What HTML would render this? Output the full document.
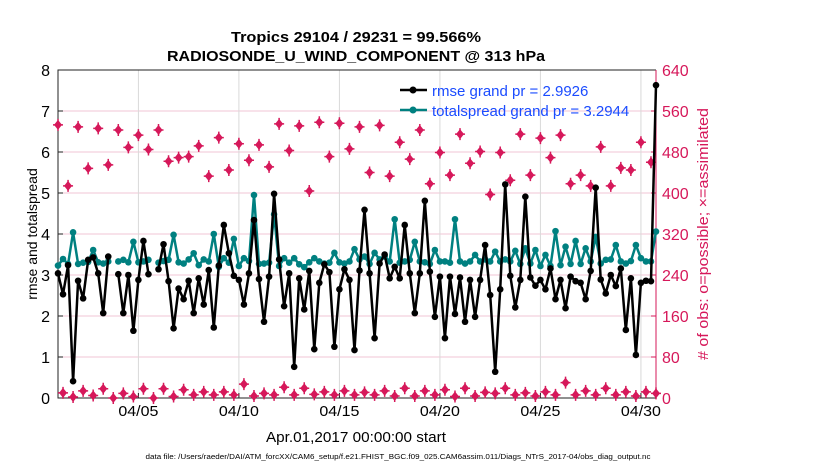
<!DOCTYPE html>
<html><head><meta charset="utf-8">
<style>
html,body{margin:0;padding:0;background:#fff;}
svg{display:block;font-family:"Liberation Sans",Arial,sans-serif;}
</style></head>
<body>
<svg id="chart" width="830" height="470" viewBox="0 0 830 470">
  <text x="356" y="42" text-anchor="middle" font-size="14.5" font-weight="bold" textLength="250" lengthAdjust="spacingAndGlyphs">Tropics 29104 / 29231 = 99.566%</text>
  <text x="356" y="61" text-anchor="middle" font-size="14.5" font-weight="bold" textLength="378" lengthAdjust="spacingAndGlyphs">RADIOSONDE_U_WIND_COMPONENT @ 313 hPa</text>
  <g id="grid"></g>
  <g id="axes"></g>
  <g id="marks"></g>
  <g id="legend">
    <line x1="400" y1="90" x2="427" y2="90" stroke="#000" stroke-width="2.5"/>
    <circle cx="413" cy="90" r="3.5" fill="#000"/>
    <text x="432" y="96" font-size="15" fill="#1a4bff">rmse grand pr = 2.9926</text>
    <line x1="400" y1="110" x2="427" y2="110" stroke="#008080" stroke-width="2.5"/>
    <circle cx="413" cy="110" r="3.5" fill="#008080"/>
    <text x="432" y="116" font-size="15" fill="#1a4bff">totalspread grand pr = 3.2944</text>
  </g>
  <text x="0" y="0" transform="translate(37,234) rotate(-90)" text-anchor="middle" font-size="14">rmse and totalspread</text>
  <text x="0" y="0" transform="translate(708,234) rotate(-90)" text-anchor="middle" font-size="14.5" fill="#d6185a" textLength="252" lengthAdjust="spacingAndGlyphs"># of obs: o=possible; ×=assimilated</text>
  <text x="356" y="442" text-anchor="middle" font-size="15" textLength="180" lengthAdjust="spacingAndGlyphs">Apr.01,2017 00:00:00 start</text>
  <text x="398" y="459" text-anchor="middle" font-size="7" textLength="505" lengthAdjust="spacingAndGlyphs">data file: /Users/raeder/DAI/ATM_forcXX/CAM6_setup/f.e21.FHIST_BGC.f09_025.CAM6assim.011/Diags_NTrS_2017-04/obs_diag_output.nc</text>
</svg>
<script>
const rmse = [3.04,2.53,3.24,0.41,2.86,2.43,3.37,3.43,3.04,2.07,3.45,null,3.02,2.07,3.0,1.64,2.88,3.83,3.02,null,
3.14,3.75,2.85,1.70,2.67,2.41,2.86,2.07,2.92,2.28,3.12,1.72,3.23,4.22,3.53,2.98,2.88,2.28,3.04,4.34,
2.90,1.86,2.96,4.98,3.38,2.24,3.04,0.76,2.92,2.16,3.10,1.19,2.81,3.26,3.07,1.25,2.65,3.14,2.88,1.17,
3.11,4.59,3.04,1.46,3.28,3.50,2.92,3.20,2.92,4.22,3.04,2.07,3.04,4.81,3.08,1.98,2.96,1.46,2.96,2.05,
2.94,1.86,2.88,1.98,2.88,3.73,2.51,0.64,2.65,5.21,2.98,2.21,2.88,4.91,2.94,2.74,2.88,2.65,3.16,2.41,
2.88,2.19,2.96,2.85,2.81,2.41,3.10,5.13,2.89,2.55,3.0,2.73,3.16,1.66,2.92,1.05,2.81,2.86,2.85,7.63];
const spread = [3.23,3.39,3.27,4.04,3.27,3.30,3.32,3.61,3.31,3.28,3.33,null,3.33,3.37,3.31,3.81,3.31,3.33,3.37,null,
3.30,3.34,3.37,3.98,3.31,3.28,3.38,3.53,3.24,3.38,3.33,4.0,3.2,3.41,3.30,3.88,3.22,3.41,3.34,4.95,
3.27,3.28,3.30,4.48,3.22,3.41,3.30,3.41,3.26,3.19,3.31,3.41,3.33,3.28,3.30,3.54,3.31,3.28,3.33,3.63,
3.38,3.45,3.27,3.54,3.38,3.45,3.33,4.36,3.30,3.33,3.37,3.81,3.33,3.31,3.27,3.61,3.33,3.33,3.30,4.36,
3.33,3.28,3.33,3.49,3.33,3.38,3.33,3.57,3.33,3.38,3.33,3.59,3.27,3.65,3.28,3.61,3.22,3.49,3.22,4.07,
3.24,3.69,3.27,3.83,3.27,3.65,3.33,3.93,3.28,3.37,3.38,3.73,3.33,3.28,3.34,3.73,3.41,3.33,3.33,4.06];
const obsHigh = [533,414,529,448,526,455,523,489,513,485,523,462,469,471,492,433,508,445,496,464,
494,451,535,483,531,404,538,471,536,486,529,440,532,433,499,466,523,418,479,435,
515,458,481,397,479,425,515,435,507,469,513,418,435,414,490,414,449,445,499,460];
const obsLow = [10,2,14,5,18,0,9,3,18,0,18,3,16,6,12,6,12,6,27,4,
9,6,21,6,19,7,12,6,14,6,11,6,14,4,19,4,14,6,16,3,
19,4,11,9,19,6,10,4,12,6,30,6,14,6,19,6,12,4,12,9];
const yTicksLeft = [0,1,2,3,4,5,6,7,8];
const yTicksRight = [0,80,160,240,320,400,480,560,640];
const xTickDays = [4,9,14,19,24,29];
const xTickLabels = ["04/05","04/10","04/15","04/20","04/25","04/30"];

const NS="http://www.w3.org/2000/svg";
const L=58,R=656,T=70,B=398;
const xs=d=>L+(d/29.75)*(R-L);
const yl=v=>B-(v/8)*(B-T);
const yr=v=>B-(v/640)*(B-T);
const PINK="#d6185a";
function mk(tag,attrs,parent){const e=document.createElementNS(NS,tag);for(const k in attrs)e.setAttribute(k,attrs[k]);parent.appendChild(e);return e;}
const grid=document.getElementById('grid'),axes=document.getElementById('axes'),marks=document.getElementById('marks');

yTicksLeft.forEach((v,i)=>{
  if(v>0&&v<8){const g=mk('line',{x1:L,x2:R,y1:yl(v),y2:yl(v),stroke:'#f2c6d4','stroke-width':1},grid);
  
  }
  const t=mk('text',{x:L-8,y:yl(v)+6,'text-anchor':'end','font-size':16},axes);t.textContent=v;
  
  
  mk('line',{x1:L,x2:L+5,y1:yl(v),y2:yl(v),stroke:'#222'},axes);
});
yTicksRight.forEach(v=>{
  const t=mk('text',{x:R+6,y:yr(v)+6,'font-size':16,fill:PINK},axes);t.textContent=v;
  
  
  mk('line',{x1:R-5,x2:R,y1:yr(v),y2:yr(v),stroke:PINK},axes);
});
xTickDays.forEach((d,i)=>{
  const g=mk('line',{x1:xs(d),x2:xs(d),y1:T,y2:B,stroke:'#d9d9d9','stroke-width':1},grid);
  
  
  mk('line',{x1:xs(d),x2:xs(d),y1:B,y2:B-5,stroke:'#222'},axes);
  const t=mk('text',{x:xs(d),y:416,'text-anchor':'middle','font-size':15,textLength:40,lengthAdjust:'spacingAndGlyphs'},axes);t.textContent=xTickLabels[i];
  
  
});
const box=mk('path',{d:`M${R},${T}H${L}V${B}H${R}`,fill:'none',stroke:'#222','stroke-width':1},axes);


const ra=mk('line',{x1:R,x2:R,y1:T,y2:B,stroke:PINK,'stroke-width':1},axes);



function obsMarker(x,y){
  const g=mk('g',{},marks);
  
  
  mk('path',{d:`M${x},${y-5}L${x+4},${y}L${x},${y+5}L${x-4},${y}Z`,fill:PINK},g);
  mk('path',{d:`M${x-5},${y}H${x+5}M${x},${y-6}V${y+6}`,stroke:PINK,'stroke-width':1.5},g);
}
obsHigh.forEach((v,k)=>obsMarker(xs(k*0.5),yr(v)));
obsLow.forEach((v,k)=>obsMarker(xs(k*0.5+0.25),yr(v)));

function series(arr,color,name){
  let d='',pen=false;
  arr.forEach((v,i)=>{if(v==null){pen=false;return;}d+=(pen?'L':'M')+xs(i*0.25).toFixed(1)+','+yl(v).toFixed(1);pen=true;});
  const p=mk('path',{d:d,fill:'none',stroke:color,'stroke-width':2.5,'stroke-linejoin':'round'},marks);
  
  
  arr.forEach((v,i)=>{if(v==null)return;
    const c=mk('circle',{cx:xs(i*0.25),cy:yl(v),r:3.3,fill:color},marks);
    
    });
}
series(spread,'#008080','totalspread');
series(rmse,'#000000','rmse');
</script>
</body></html>
